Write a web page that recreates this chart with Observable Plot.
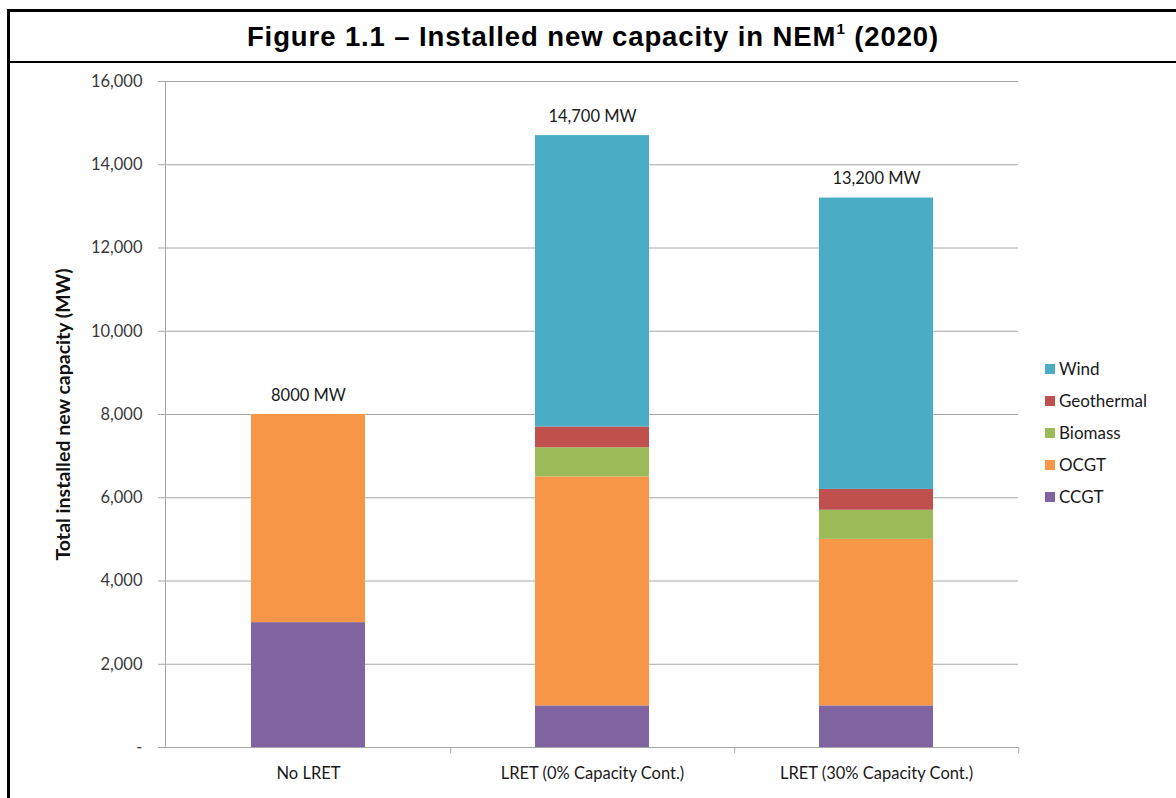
<!DOCTYPE html>
<html>
<head>
<meta charset="utf-8">
<script src="https://cdn.jsdelivr.net/npm/d3@7"></script>
<script src="https://cdn.jsdelivr.net/npm/@observablehq/plot@0.6"></script>
<style>
  html, body { margin: 0; padding: 0; background: #fff; width: 1176px; height: 798px; overflow: hidden; }
  #frame { position: absolute; left: 7px; top: 9px; width: 1300px; height: 900px;
           border-left: 3px solid #000; border-top: 3px solid #000; z-index: 2; pointer-events: none; }
  #title { height: 49px; border-bottom: 2px solid #000; text-align: center;
           font-family: "Liberation Sans", Arial, sans-serif; font-weight: bold; font-size: 27.5px;
           letter-spacing: 0.9px; line-height: 49px; color: #000; width: 1166px; }
  #title sup { font-size: 15px; vertical-align: baseline; position: relative; top: -12px; line-height: 0; }
  #chart { position: absolute; left: 0; top: 62px; z-index: 1; }
  #legend { position: absolute; left: 1045px; top: 358px; z-index: 3;
            font-family: Lato, "Open Sans", sans-serif; font-size: 17px; color: #1a1a1a; }
  .item { height: 32px; display: flex; align-items: flex-start; }
  .sw { width: 10px; height: 10px; margin-top: 6px; margin-right: 4px; }
</style>
</head>
<body>
<div id="frame"><div id="title">Figure 1.1 – Installed new capacity in NEM<sup>1</sup> (2020)</div></div>
<div id="chart"></div>
<div id="legend"></div>
<script>
// Scenarios along the x axis
const categories = ["No LRET", "LRET (0% Capacity Cont.)", "LRET (30% Capacity Cont.)"];

// Installed new capacity by technology (MW), one value per scenario
const ccgt       = [3000, 1000, 1000];
const ocgt       = [5000, 5500, 4000];
const biomass    = [0, 700, 700];
const geothermal = [0, 500, 500];
const wind       = [0, 7000, 7000];

// Technologies in stacking order (bottom to top) and their colours
const technologies = ["CCGT", "OCGT", "Biomass", "Geothermal", "Wind"];
const techColors   = ["#8064A2", "#F79646", "#9BBB59", "#C0504D", "#4BACC6"];

// Total labels printed above each stack
const totalLabels = ["8000 MW", "14,700 MW", "13,200 MW"];

// Y axis tick values
const yTicks = [0, 2000, 4000, 6000, 8000, 10000, 12000, 14000, 16000];

const seriesValues = [ccgt, ocgt, biomass, geothermal, wind];
const rows = [];
technologies.forEach((tech, t) => {
  categories.forEach((cat, i) => rows.push({scenario: cat, tech, value: seriesValues[t][i]}));
});
const totals = categories.map((cat, i) => ({
  scenario: cat,
  total: seriesValues.reduce((s, arr) => s + arr[i], 0),
  label: totalLabels[i]
}));

const width = 1176, height = 736;
const marginLeft = 165, marginRight = 158, marginTop = 19, marginBottom = 51;
const step = (width - marginLeft - marginRight) / categories.length;
const font = "Lato, 'Open Sans', sans-serif";
const gridColor = "#a6a6a6";

const plot = Plot.plot({
  width, height, marginLeft, marginRight, marginTop, marginBottom,
  style: {fontFamily: font, fontSize: "16.5px", background: "none", color: "#3a3a3a"},
  x: {domain: categories, paddingInner: 0.6, paddingOuter: 0.3, label: null},
  y: {domain: [0, 16000], label: null},
  color: {domain: technologies, range: techColors},
  marks: [
    Plot.ruleY(yTicks, {stroke: gridColor, strokeWidth: 1}),
    Plot.axisY({ticks: yTicks, tickSize: 7, tickPadding: 16, stroke: gridColor,
                tickFormat: d => d === 0 ? "-" : d3.format(",")(d), fill: "#3a3a3a",
                label: null}),
    Plot.barY(rows, {x: "scenario", y: "value", fill: "tech"}),
    Plot.frame({anchor: "left", stroke: gridColor}),
    Plot.ruleY([0], {stroke: gridColor}),
    // boundary ticks between categories on the x axis
    Plot.ruleX(categories, {x: d => d, dx: step / 2, y1: 0, y2: -150, stroke: gridColor, clip: false}),
    Plot.axisX({tickSize: 0, tickPadding: 20, fill: "#1a1a1a", label: null}),
    Plot.text(totals, {x: "scenario", y: "total", text: "label", dy: -19, fill: "#1a1a1a",
                       fontSize: 16.5}),
    Plot.text(["Total installed new capacity (MW)"], {frameAnchor: "left", textAnchor: "middle",
                       rotate: -90, dx: -102, fontWeight: "bold", fontSize: 19.5, fill: "#111"})
  ]
});
plot.style.maxWidth = "none";
document.getElementById("chart").appendChild(plot);

// Legend, top entry first
const legend = document.getElementById("legend");
technologies.slice().reverse().forEach(tech => {
  const item = document.createElement("div");
  item.className = "item";
  const sw = document.createElement("span");
  sw.className = "sw";
  sw.style.background = techColors[technologies.indexOf(tech)];
  const label = document.createElement("span");
  label.textContent = tech;
  item.appendChild(sw);
  item.appendChild(label);
  legend.appendChild(item);
});
</script>
</body>
</html>
